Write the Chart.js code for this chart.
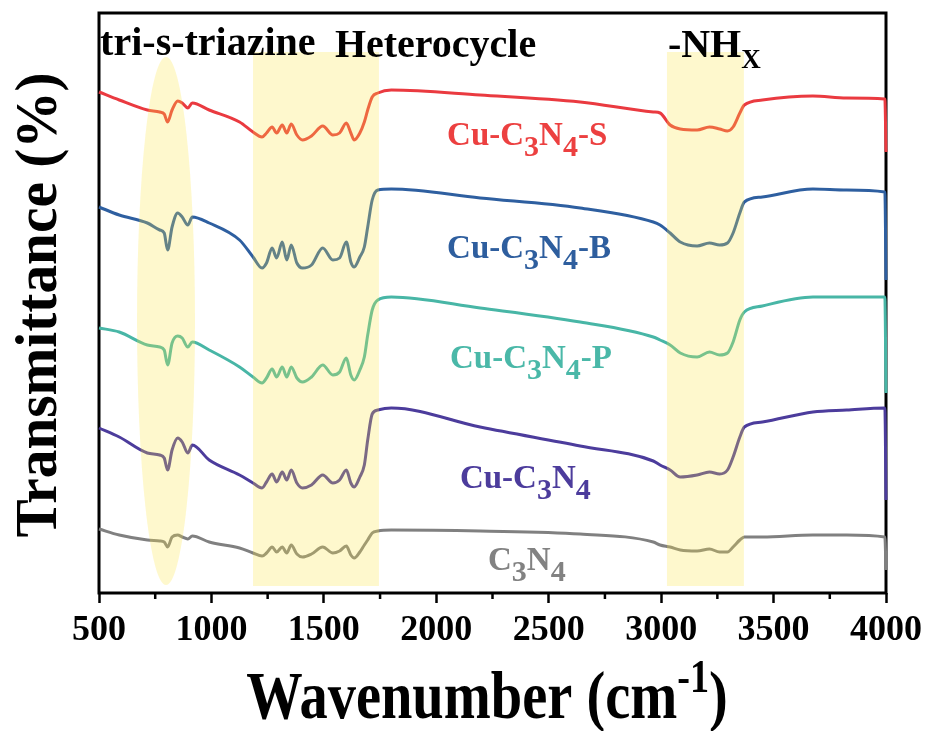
<!DOCTYPE html>
<html>
<head>
<meta charset="utf-8">
<script src="https://cdn.jsdelivr.net/npm/chart.js@4.4.0/dist/chart.umd.min.js"></script>
<style>
  html, body { margin: 0; padding: 0; background: #fff; }
  #wrap { width: 928px; height: 731px; }
</style>
</head>
<body>
<div id="wrap"><canvas id="canvas-FTIR" width="928" height="731"></canvas></div>
<script>
// x axis: wavenumber grid (cm-1), shared by every spectrum
const wavenumbers = [500, 590, 715, 770, 790, 805, 825, 850, 870, 895, 915, 990, 1125, 1185, 1225, 1245, 1270, 1290, 1315, 1335, 1355, 1380, 1405, 1445, 1495, 1540, 1570, 1600, 1620, 1635, 1660, 1680, 1695, 1715, 1740, 1800, 2195, 2640, 2965, 2995, 3040, 3085, 3160, 3215, 3260, 3295, 3320, 3350, 3370, 3450, 3675, 3825, 3995, 4000];

// transmittance (arbitrary units, curves offset for stacking)
const cuC3N4S = [501, 493, 483, 481, 479, 471, 483, 492, 490, 485, 490, 483, 471, 461, 456, 460, 466, 460, 468, 460, 469, 458, 453, 457, 467, 458, 460, 470, 460, 453, 460, 471, 483, 496, 500, 503, 498, 491, 481, 480, 468, 464, 463, 466, 464, 462, 466, 480, 488, 493, 497, 495, 494, 441];
const cuC3N4B = [386, 378, 370, 363, 360, 343, 366, 380, 376, 368, 376, 370, 353, 336, 325, 330, 345, 335, 351, 333, 348, 330, 325, 328, 345, 333, 335, 351, 331, 326, 336, 346, 366, 393, 403, 404, 395, 385, 371, 368, 360, 351, 347, 350, 348, 350, 360, 380, 391, 396, 404, 403, 401, 313];
const cuC3N4P = [265, 261, 248, 246, 243, 228, 250, 257, 255, 246, 251, 243, 226, 216, 210, 215, 224, 216, 226, 216, 226, 215, 211, 216, 228, 218, 221, 235, 218, 213, 223, 236, 258, 283, 293, 296, 285, 271, 256, 253, 248, 240, 236, 241, 238, 240, 251, 273, 281, 287, 296, 296, 296, 200];
const cuC3N4 = [165, 156, 140, 138, 135, 123, 143, 155, 151, 140, 148, 133, 118, 110, 105, 111, 119, 111, 121, 113, 123, 110, 105, 108, 118, 110, 113, 123, 110, 106, 116, 128, 153, 179, 183, 185, 166, 147, 132, 128, 123, 116, 118, 121, 119, 123, 136, 156, 166, 171, 181, 183, 185, 93];
const c3N4 = [64, 58, 53, 52, 51, 46, 56, 58, 56, 54, 57, 51, 45, 40, 37, 40, 46, 41, 46, 40, 48, 39, 36, 39, 46, 40, 42, 47, 38, 35, 41, 48, 53, 60, 62, 63, 62, 59, 51, 48, 46, 43, 42, 44, 41, 41, 46, 53, 56, 56, 58, 58, 56, 23];

const seriesNames = ["Cu-C3N4-S", "Cu-C3N4-B", "Cu-C3N4-P", "Cu-C3N4", "C3N4"];
const seriesValues = [cuC3N4S, cuC3N4B, cuC3N4P, cuC3N4, c3N4];
const tickLabels = [500, 1000, 1500, 2000, 2500, 3000, 3500, 4000];
const bandLabels = ["tri-s-triazine", "Heterocycle", "-NH"];

const lineColors = ["rgb(234, 58, 64)", "rgb(46, 95, 160)", "rgb(72, 182, 166)", "rgb(76, 60, 156)", "rgb(128, 128, 128)"];
const textColors = ["rgb(236, 64, 64)", "rgb(46, 94, 158)", "rgb(74, 184, 168)", "rgb(76, 60, 156)", "rgb(130, 130, 130)"];
// where each curve name sits (data coords: left edge, baseline)
const nameSpots = [[2048, 448], [2048, 335], [2061, 225], [2105, 105], [2230, 23]];
const bandSpots = [[505, 538], [1549, 536], [3030, 536]];

const SERIF = '"Liberation Serif", "Times New Roman", serif';

// draws a formula like C3N4 with the digits as subscripts
const drawFormula = (ctx, text, x, y, size) => {
  let cx = x;
  for (const ch of text) {
    const sub = ch >= "0" && ch <= "9";
    ctx.font = "bold " + (sub ? Math.round(size * 0.9) : size) + "px " + SERIF;
    ctx.fillText(ch, cx, sub ? y + size * 0.34 : y);
    cx += ctx.measureText(ch).width;
  }
};

const bandsAndText = {
  id: "bandsAndText",
  beforeDatasetsDraw(chart) {
    const { ctx, chartArea: a, scales } = chart;
    ctx.save();
    ctx.strokeStyle = "#000";
    ctx.lineWidth = 3;
    ctx.strokeRect(a.left, a.top, a.right - a.left, a.bottom - a.top);
    // minor ticks between labelled ones
    ctx.lineWidth = 2.5;
    for (let w = 750; w < 4000; w += 500) {
      const px = scales.x.getPixelForValue(w);
      ctx.beginPath();
      ctx.moveTo(px, a.bottom);
      ctx.lineTo(px, a.bottom + 6);
      ctx.stroke();
    }
    ctx.restore();
  },
  afterDatasetsDraw(chart) {
    const { ctx, scales } = chart;
    const x = scales.x, y = scales.y;
    ctx.save();
    // yellow highlight bands, laid over the curves
    ctx.fillStyle = "rgba(250, 228, 70, 0.27)";
    ctx.beginPath();
    ctx.ellipse(x.getPixelForValue(798), y.getPixelForValue(272),
      x.getPixelForValue(927) - x.getPixelForValue(798),
      y.getPixelForValue(8) - y.getPixelForValue(272), 0, 0, Math.PI * 2);
    ctx.fill();
    [[1185, 1745], [3026, 3368]].forEach(([w0, w1]) => {
      const x0 = x.getPixelForValue(w0), x1 = x.getPixelForValue(w1);
      const y0 = y.getPixelForValue(541), y1 = y.getPixelForValue(7);
      ctx.fillRect(x0, y0, x1 - x0, y1 - y0);
    });

    // band names at the top
    ctx.fillStyle = "#000";
    ctx.textAlign = "left";
    ctx.textBaseline = "alphabetic";
    bandLabels.forEach((t, i) => {
      const bx = x.getPixelForValue(bandSpots[i][0]);
      const by = y.getPixelForValue(bandSpots[i][1]);
      ctx.font = "bold 40px " + SERIF;
      ctx.fillText(t, bx, by);
      if (i === 2) {
        const wdt = ctx.measureText(t).width;
        ctx.font = "bold 27px " + SERIF;
        ctx.fillText("X", bx + wdt, by + 11);
      }
    });

    // curve names
    seriesNames.forEach((n, i) => {
      ctx.fillStyle = textColors[i];
      drawFormula(ctx, n, x.getPixelForValue(nameSpots[i][0]), y.getPixelForValue(nameSpots[i][1]), 33);
    });

    // y axis title
    ctx.fillStyle = "#000";
    ctx.save();
    ctx.translate(56, 305);
    ctx.rotate(-Math.PI / 2);
    ctx.scale(0.955, 1);
    ctx.font = "bold 60px " + SERIF;
    ctx.textAlign = "center";
    ctx.fillText("Transmittance (%)", 0, 0);
    ctx.restore();

    // x axis title with superscript
    ctx.save();
    const sx = 0.83;
    ctx.font = "bold 68px " + SERIF;
    const w1 = ctx.measureText("Wavenumber (cm").width;
    const w3 = ctx.measureText(")").width;
    ctx.font = "bold 46px " + SERIF;
    const w2 = ctx.measureText("-1").width;
    const total = (w1 + w2 + w3) * sx;
    ctx.translate(487 - total / 2, 718);
    ctx.scale(sx, 1);
    ctx.font = "bold 68px " + SERIF;
    ctx.fillText("Wavenumber (cm", 0, 0);
    ctx.font = "bold 46px " + SERIF;
    ctx.fillText("-1", w1, -26);
    ctx.font = "bold 68px " + SERIF;
    ctx.fillText(")", w1 + w2, 0);
    ctx.restore();

    ctx.restore();
  },
};

const context = document.getElementById("canvas-FTIR").getContext("2d");
const ftirChart = new Chart(context, {
  type: "line",
  data: {
    datasets: seriesNames.map((n, i) => ({
      label: n,
      data: wavenumbers.map((w, j) => ({ x: w, y: seriesValues[i][j] })),
      borderColor: lineColors[i],
      borderWidth: 3,
      pointRadius: 0,
      cubicInterpolationMode: "monotone",
      clip: false,
    })),
  },
  options: {
    responsive: false,
    animation: false,
    devicePixelRatio: 1,
    layout: { padding: { left: 99, right: 42, top: 13, bottom: 0 } },
    plugins: { legend: { display: false }, tooltip: { enabled: false } },
    scales: {
      x: {
        type: "linear",
        min: 500,
        max: 4000,
        afterFit: (scale) => { scale.height = 138; },
        border: { display: false },
        grid: { drawOnChartArea: false, drawTicks: true, tickLength: 10, tickWidth: 2.5, tickColor: "#000" },
        ticks: {
          stepSize: 500,
          padding: 6,
          color: "#000",
          font: { family: SERIF, size: 36, weight: "bold" },
          maxRotation: 0,
          callback: (v) => (tickLabels.includes(v) ? String(v) : ""),
        },
      },
      y: { display: false, min: 0, max: 580 },
    },
  },
  plugins: [bandsAndText],
});
</script>
</body>
</html>
